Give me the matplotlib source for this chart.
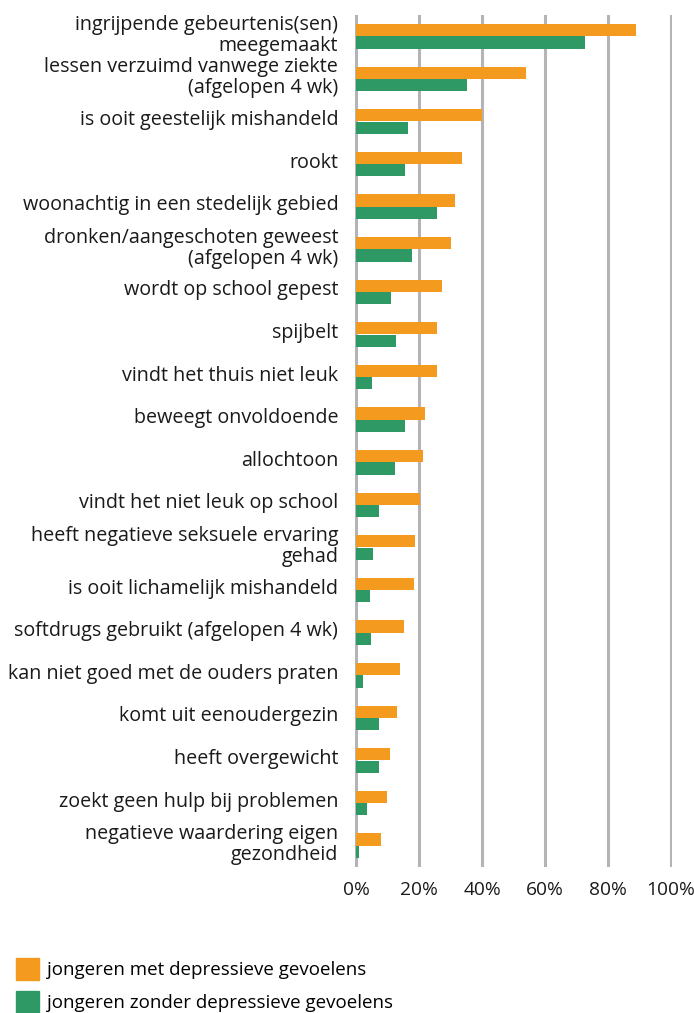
import matplotlib.pyplot as plt
from matplotlib.patches import Patch
from matplotlib.transforms import ScaledTranslation
import numpy as np

# categories, top to bottom
labels = [
    'ingrijpende gebeurtenis(sen)\nmeegemaakt',
    'lessen verzuimd vanwege ziekte\n(afgelopen 4 wk)',
    'is ooit geestelijk mishandeld',
    'rookt',
    'woonachtig in een stedelijk gebied',
    'dronken/aangeschoten geweest\n(afgelopen 4 wk)',
    'wordt op school gepest',
    'spijbelt',
    'vindt het thuis niet leuk',
    'beweegt onvoldoende',
    'allochtoon',
    'vindt het niet leuk op school',
    'heeft negatieve seksuele ervaring\ngehad',
    'is ooit lichamelijk mishandeld',
    'softdrugs gebruikt (afgelopen 4 wk)',
    'kan niet goed met de ouders praten',
    'komt uit eenoudergezin',
    'heeft overgewicht',
    'zoekt geen hulp bij problemen',
    'negatieve waardering eigen\ngezondheid',
]
met_depr = [89, 54, 40, 33.5, 31.5, 30.2, 27.3, 25.8, 25.8, 21.7,
            21.3, 20.4, 18.8, 18.3, 15.2, 14, 13, 10.7, 9.8, 8]
zonder_depr = [72.8, 35.2, 16.3, 15.4, 25.7, 17.6, 11.2, 12.5, 4.9, 15.6,
               12.2, 7.2, 5.4, 4.4, 4.7, 2, 7.3, 7.3, 3.5, 1]
xticks = [0, 20, 40, 60, 80, 100]
legend_labels = ['jongeren met depressieve gevoelens',
                 'jongeren zonder depressieve gevoelens']

orange = '#F39A1F'
green = '#2F9966'
grid_col = '#B4B4B8'
txt = '#1a1a1a'

plt.rcParams['font.family'] = ['Open Sans', 'DejaVu Sans']

fig = plt.figure(figsize=(6.94, 10.13), dpi=100)
ax = fig.add_axes([355 / 694, 1 - 867 / 1013, 317 / 694, 852 / 1013])

y = np.arange(len(labels))
h = 0.29
ax.barh(y - h / 2, met_depr, height=h, color=orange, zorder=3)
ax.barh(y + h / 2, zonder_depr, height=h, color=green, zorder=3)

ax.set_ylim(len(labels) - 0.5, -0.5)
ax.set_xlim(-0.4, 100.4)
ax.set_yticks(y)
ax.set_yticklabels(labels, fontsize=14.2, color=txt, linespacing=1.05)
ax.set_xticks(xticks)
ax.set_xticklabels([f'{t}%' for t in xticks], fontsize=13.8, color=txt)
ax.tick_params(axis='both', length=0)
ax.tick_params(axis='y', pad=12)
ax.tick_params(axis='x', pad=10)

# labels sit slightly above the bar pair centre
up = ScaledTranslation(0, 4 / 100, fig.dpi_scale_trans)
for lab in ax.get_yticklabels():
    lab.set_transform(lab.get_transform() + up)

for t in xticks:
    ax.axvline(t, color=grid_col, lw=2.2, zorder=1)
for s in ax.spines.values():
    s.set_visible(False)

handles = [Patch(color=orange), Patch(color=green)]
fig.legend(handles, legend_labels, loc='lower left', bbox_to_anchor=(16 / 694, 0),
           frameon=False, fontsize=13.5, handlelength=1.23, handleheight=1.45,
           handletextpad=0.43, labelspacing=0.58, borderpad=0, borderaxespad=0)

fig.savefig('out.png', dpi=100)
